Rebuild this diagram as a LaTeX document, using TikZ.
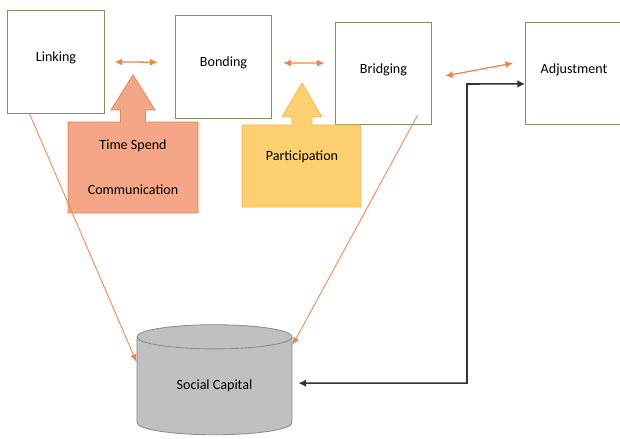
\documentclass[tikz,border=0pt]{standalone}
\usepackage{fontspec}
\setmainfont{Carlito}
\usetikzlibrary{arrows.meta,positioning,shapes.geometric}
\definecolor{boxline}{RGB}{125,148,95}
\definecolor{tieline}{RGB}{236,132,80}
\definecolor{timefill}{RGB}{244,166,134}
\definecolor{timeline}{RGB}{226,132,98}
\definecolor{partfill}{RGB}{252,208,112}
\definecolor{partline}{RGB}{240,186,84}
\definecolor{capfill}{RGB}{192,192,192}
\definecolor{capline}{RGB}{140,140,140}
\tikzset{font=\fontsize{10}{12}\selectfont}
\tikzset{
  sbox/.style={draw=boxline, fill=white, line width=.6pt, inner sep=0pt,
    minimum width=2.42cm, minimum height=2.57cm,
    text height=1.8ex, text depth=1.8ex},
  tie/.style={draw=tieline, line width=.9pt,
    {Latex[length=5.5pt,width=5pt]}-{Latex[length=5.5pt,width=5pt]}},
  feed/.style={draw=tieline, line width=.6pt, -{Latex[length=5.5pt,width=4.5pt]}},
  back/.style={draw=black!80, line width=1.1pt,
    {Latex[length=5.5pt,width=5.5pt]}-{Latex[length=5.5pt,width=5.5pt]}},
}

\begin{document}
\begin{tikzpicture}[x=.025cm, y=-.025cm]
  \useasboundingbox (0,0) rectangle (620,439);

  \node[sbox] (link) at (56,62) {Linking};
  \node[sbox] (bond) at (223.5,67) {Bonding};
  \node[sbox] (bridge) at (383.5,73.5) {Bridging};
  \node[sbox] (adjust) at (574,73.5) {Adjustment};

  \node[cylinder, shape border rotate=90, aspect=.32, draw=capline, fill=capfill,
    line width=.6pt, minimum width=3.875cm, minimum height=2.75cm,
    inner sep=0pt] (capital) at (214.5,386) {Social Capital};

  % block arrows
  \draw[fill=timefill, draw=timeline, line width=.6pt]
    (68,213) -- (68,122) -- (120.5,122) -- (120.5,110) -- (111,110)
    -- (133,75) -- (155,110) -- (145.5,110) -- (145.5,122) -- (198,122)
    -- (198,213) -- cycle;
  \node (timespend) at (133,146) {Time Spend};
  \node (comm) at (133,190) {Communication};

  \draw[fill=partfill, draw=partline, line width=.6pt]
    (242,207) -- (242,125) -- (292,125) -- (292,117) -- (282,117)
    -- (302,83) -- (322,117) -- (312,117) -- (312,125) -- (361,125)
    -- (361,207) -- cycle;
  \node (particip) at (302,157) {Participation};

  \draw[tie] ([xshift=.24cm]link.east) -- ([shift={(-.42cm,.12cm)}]bond.west);
  \draw[tie] ([shift={(.27cm,.1cm)}]bond.east) -- ([shift={(-.25cm,.26cm)}]bridge.west);
  \draw[tie] ([shift={(.32cm,-.06cm)}]bridge.east) -- ([shift={(-.3cm,.26cm)}]adjust.west);

  \draw[feed] ([xshift=.56cm]link.south west) -- ([yshift=.6cm]capital.west);
  \draw[feed] ([shift={(-.37cm,.25cm)}]bridge.south east) -- ([yshift=1.02cm]capital.east);

  \coordinate (turn) at (467,84);
  \draw[back] ([shift={(.15cm,.07cm)}]capital.east) -| (turn) -- ([yshift=-.26cm]adjust.west);

\end{tikzpicture}
\end{document}
